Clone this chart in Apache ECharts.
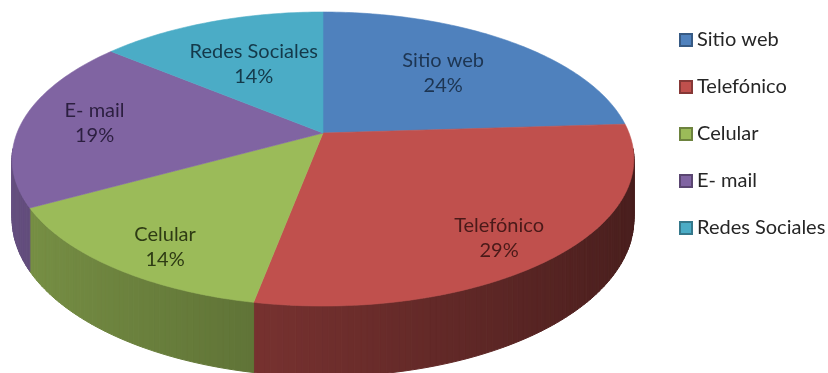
<!DOCTYPE html>
<html>
<head>
<meta charset="utf-8">
<script src="https://cdn.jsdelivr.net/npm/echarts@6/dist/echarts.min.js"></script>
<style>
  html, body { margin: 0; padding: 0; background: #fff; }
  #chart { width: 828px; height: 373px; }
</style>
</head>
<body>
<div id="chart"></div>
<script>
// data
var categories = ['Sitio web', 'Telefónico', 'Celular', 'E- mail', 'Redes Sociales'];
var values = [24, 29, 14, 19, 14];
var colors = ['#4F81BD', '#C0504D', '#9BBB59', '#8064A2', '#4BACC6'];
var labelColors = ['#1d3552', '#4a1a19', '#2e3b14', '#2c1f40', '#14394a'];

// fake 3d pie: a tilted disc seen in perspective
var CX = 323, CY = 133, A = 306, B = 142.4, K = 0.177, H = 58;
var total = values.reduce(function (a, b) { return a + b; }, 0);
var starts = [];
var acc = 0;
values.forEach(function (v) { starts.push(acc / total * Math.PI * 2); acc += v; });

function proj(r, th, drop) {
    var x = r * Math.sin(th), z = -r * Math.cos(th);
    var s = 1 / (1 - K * z);
    return [CX + A * x * s, CY + B * z * s + (drop || 0) * s];
}
function shade(hex, f) {
    var n = parseInt(hex.slice(1), 16);
    var r = Math.round(((n >> 16) & 255) * f), g = Math.round(((n >> 8) & 255) * f), b = Math.round((n & 255) * f);
    return 'rgb(' + r + ',' + g + ',' + b + ')';
}
function sliceRange(i) {
    return [starts[i], starts[i] + values[i] / total * Math.PI * 2];
}

var STEP = Math.PI / 180;
var wallFrom = Math.acos(-K) - 4 * STEP, wallTo = 2 * Math.PI - Math.acos(-K) + 4 * STEP;

function renderWall(params, api) {
    var i = params.dataIndex;
    var rg = sliceRange(i);
    var a0 = Math.max(rg[0], wallFrom), a1 = Math.min(rg[1], wallTo);
    var children = [];
    for (var t = a0; t < a1; t += STEP) {
        var t2 = Math.min(t + STEP, a1);
        var f = 0.58 - 0.21 * Math.sin((t + t2) / 2);
        var c = shade(colors[i], f);
        children.push({
            type: 'polygon',
            shape: { points: [proj(1, t, 0), proj(1, t2, 0), proj(1, t2, H), proj(1, t, H)] },
            style: { fill: c, stroke: c, lineWidth: 1 }
        });
    }
    return { type: 'group', children: children };
}

function renderTop(params, api) {
    var i = params.dataIndex;
    var rg = sliceRange(i);
    var pts = [[CX, CY]];
    for (var t = rg[0]; t < rg[1]; t += STEP) pts.push(proj(1, t, 0));
    pts.push(proj(1, rg[1], 0));
    var mid = (rg[0] + rg[1]) / 2;
    var zm = -Math.cos(mid);
    var r = 0.78 - 0.22 * Math.max(0, -zm);
    var lp = proj(r, mid, 0.25 * H * Math.max(0, zm));
    var pct = Math.round(values[i] / total * 100);
    return {
        type: 'group',
        children: [{
            type: 'polygon',
            shape: { points: pts },
            style: { fill: colors[i], stroke: colors[i], lineWidth: 0.6 }
        }, {
            type: 'text',
            x: lp[0], y: lp[1],
            z2: 10,
            style: {
                text: categories[i] + '\n' + pct + '%',
                fill: labelColors[i],
                font: '20px Lato',
                lineHeight: 25,
                align: 'center',
                verticalAlign: 'middle'
            }
        }]
    };
}

var sliceData = values.map(function (v, i) { return { name: categories[i], value: v }; });

var series = [
    { type: 'custom', name: 'walls', coordinateSystem: 'none', renderItem: renderWall, data: sliceData, z: 1, silent: true },
    { type: 'custom', name: 'tops', coordinateSystem: 'none', renderItem: renderTop, data: sliceData, z: 2, silent: true }
];
categories.forEach(function (c, i) {
    series.push({
        type: 'custom', name: c, coordinateSystem: 'none', data: [],
        renderItem: function () { return null; },
        itemStyle: { color: colors[i], borderColor: shade(colors[i], 0.7), borderWidth: 1 }
    });
});

var myChart = echarts.init(document.getElementById('chart'));
var option = {
    animation: false,
    legend: {
        data: categories,
        orient: 'vertical',
        left: 679,
        top: 30,
        padding: 0,
        icon: 'rect',
        itemWidth: 12,
        itemHeight: 12,
        itemGap: 27,
        selectedMode: false,
        textStyle: { fontFamily: 'Lato', fontSize: 20, color: '#262626', lineHeight: 20, padding: [0, 0, 0, 0] }
    },
    series: series
};
myChart.setOption(option);
</script>
</body>
</html>
